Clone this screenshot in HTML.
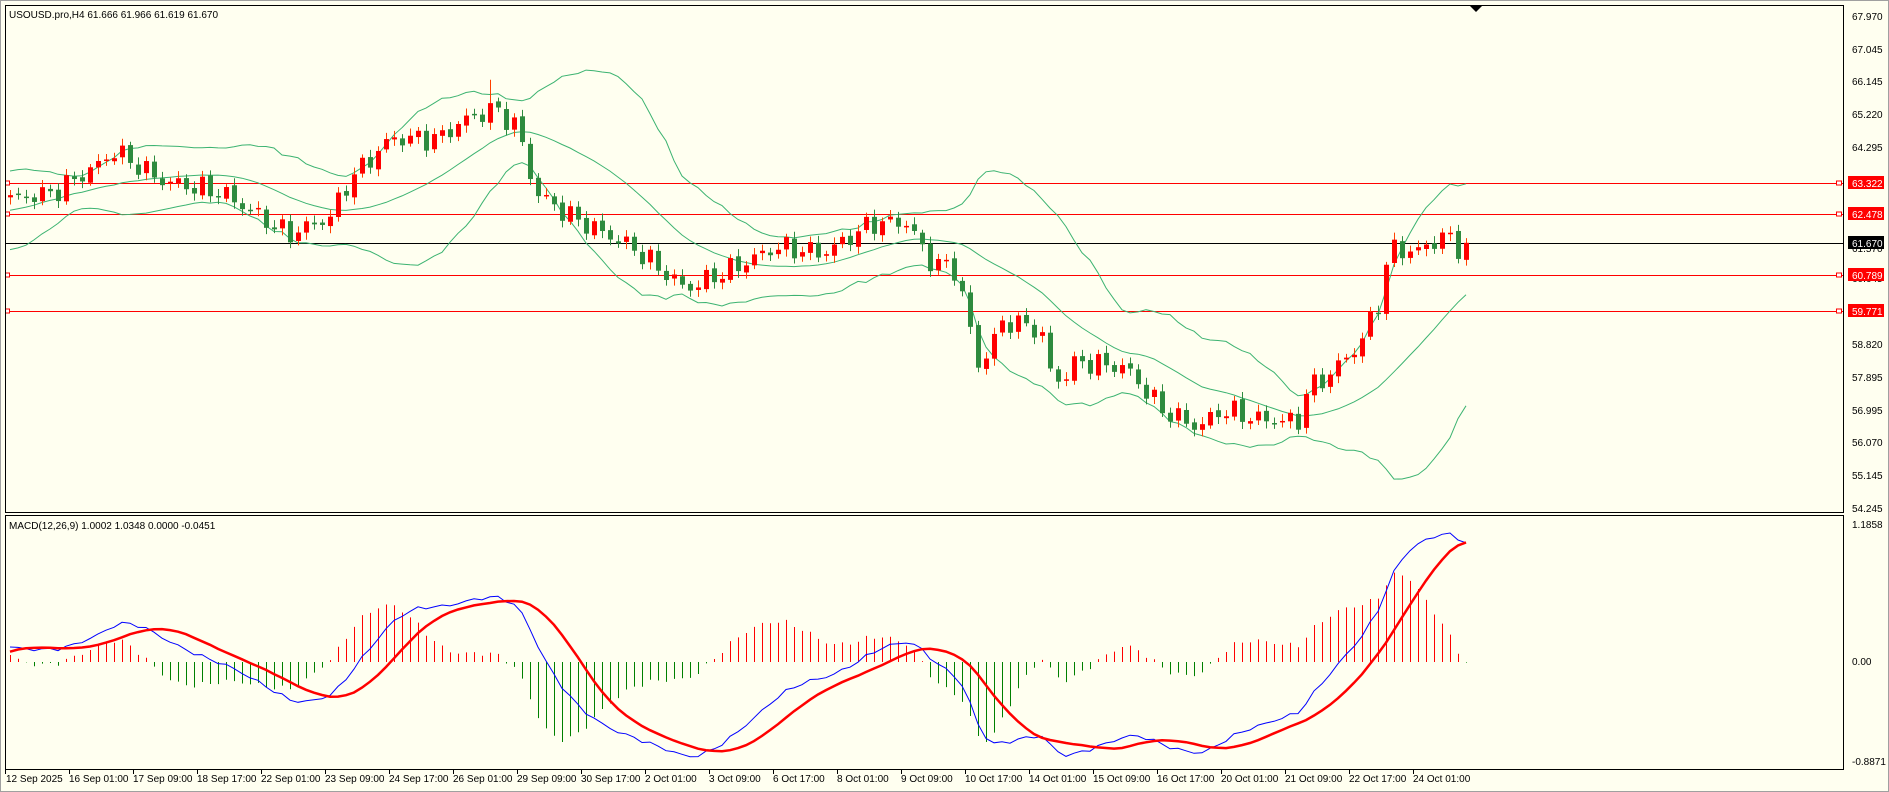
<!DOCTYPE html>
<html><head><meta charset="utf-8">
<style>
html,body{margin:0;padding:0;background:#fffff0;overflow:hidden}
svg{display:block}
text{font-family:"Liberation Sans","DejaVu Sans",sans-serif;font-size:10px;fill:#000}
</style></head><body>
<svg id="s" width="1889" height="792" xmlns="http://www.w3.org/2000/svg">
<rect x="0" y="0" width="1889" height="792" fill="#fffff0"/>
<rect x="0.5" y="0.5" width="1888" height="791" fill="none" stroke="#a0a0a0"/>
<g id="g"></g>
<rect x="5.5" y="5.5" width="1838" height="507" fill="none" stroke="#000"/>
<rect x="5.5" y="515.5" width="1838" height="254" fill="none" stroke="#000"/>
<polygon points="1470,6 1482,6 1476,12" fill="#000"/>
<text x="9" y="18">USOUSD.pro,H4  61.666 61.966 61.619 61.670</text>
<text x="9" y="529">MACD(12,26,9) 1.0002 1.0348 0.0000 -0.0451</text>
<g id="pl">
<text x="1852" y="20">67.970</text>
<text x="1852" y="53">67.045</text>
<text x="1852" y="85">66.145</text>
<text x="1852" y="118">65.220</text>
<text x="1852" y="151">64.295</text>
<text x="1852" y="348">58.820</text>
<text x="1852" y="381">57.895</text>
<text x="1852" y="414">56.995</text>
<text x="1852" y="446">56.070</text>
<text x="1852" y="479">55.145</text>
<text x="1852" y="512">54.245</text>
<text x="1852" y="252">61.570</text>
<text x="1852" y="282">60.645</text>
<rect x="1848" y="176" width="36" height="13" fill="#ff0000"/><text x="1852" y="187" style="fill:#fff">63.322</text>
<rect x="1848" y="207" width="36" height="13" fill="#ff0000"/><text x="1852" y="218" style="fill:#fff">62.478</text>
<rect x="1848" y="236" width="36" height="13" fill="#000"/><text x="1852" y="247" style="fill:#fff">61.670</text>
<rect x="1848" y="268" width="36" height="13" fill="#ff0000"/><text x="1852" y="279" style="fill:#fff">60.789</text>
<rect x="1848" y="304" width="36" height="13" fill="#ff0000"/><text x="1852" y="315" style="fill:#fff">59.771</text>
<text x="1852" y="528">1.1858</text>
<text x="1852" y="665">0.00</text>
<text x="1852" y="765">-0.8871</text>
</g>
<g id="tl">
<text x="6" y="782">12 Sep 2025</text>
<text x="69" y="782">16 Sep 01:00</text>
<text x="133" y="782">17 Sep 09:00</text>
<text x="197" y="782">18 Sep 17:00</text>
<text x="261" y="782">22 Sep 01:00</text>
<text x="325" y="782">23 Sep 09:00</text>
<text x="389" y="782">24 Sep 17:00</text>
<text x="453" y="782">26 Sep 01:00</text>
<text x="517" y="782">29 Sep 09:00</text>
<text x="581" y="782">30 Sep 17:00</text>
<text x="645" y="782">2 Oct 01:00</text>
<text x="709" y="782">3 Oct 09:00</text>
<text x="773" y="782">6 Oct 17:00</text>
<text x="837" y="782">8 Oct 01:00</text>
<text x="901" y="782">9 Oct 09:00</text>
<text x="965" y="782">10 Oct 17:00</text>
<text x="1029" y="782">14 Oct 01:00</text>
<text x="1093" y="782">15 Oct 09:00</text>
<text x="1157" y="782">16 Oct 17:00</text>
<text x="1221" y="782">20 Oct 01:00</text>
<text x="1285" y="782">21 Oct 09:00</text>
<text x="1349" y="782">22 Oct 17:00</text>
<text x="1413" y="782">24 Oct 01:00</text>
</g>
</svg>
<script>
(function(){
var NS="http://www.w3.org/2000/svg",g=document.getElementById("g");
function el(t,a){var e=document.createElementNS(NS,t);for(var k in a)e.setAttribute(k,a[k]);g.appendChild(e);return e;}
function py(p){return 16+(67.970-p)*36.0;}
function my(v){return 662-v*114;}
for(var k=0;k<23;k++){var tx=(k==0?5:5+64*k)+0.5;el("line",{x1:tx,y1:770,x2:tx,y2:774,stroke:"#000"});}
var kp=[[7,165],[40,160],[80,135],[90,125],[130,150],[180,160],[235,195],[270,180],[285,150],[320,115],[360,115],[380,100],[405,90],[425,105],[440,160],[470,180],[520,205],[565,240],[610,220],[640,205],[680,210],[720,185],[750,185],[765,215],[790,225],[800,270],[808,305],[830,265],[860,275],[870,320],[890,300],[930,305],[960,340],[990,355],[1010,340],[1040,348],[1075,350],[1080,325],[1100,310],[1125,285],[1140,250],[1150,205],[1170,210],[1195,195],[1212,210]];
var K=kp.map(function(a){return [(a[0]*1.2047-5)/8,67.97-(a[1]*1.2047-16)/36];});
var N=183,W=60,cl=[];
for(var i=0;i<W;i++){cl.push(63+0.9*Math.sin(i*0.25)-0.3+0.15*Math.sin(i*1.7));}
var first=K[0][1];
for(var i=W-10;i<W;i++){cl[i]=cl[i]+(first-cl[i])*(i-W+10)/10;}
for(var i=0;i<N;i++){
 var p;
 if(i<=K[0][0])p=K[0][1];else if(i>=K[K.length-1][0])p=K[K.length-1][1];
 else{for(var j=0;j<K.length-1;j++){if(i>=K[j][0]&&i<=K[j+1][0]){var t=(i-K[j][0])/(K[j+1][0]-K[j][0]);p=K[j][1]+t*(K[j+1][1]-K[j][1]);break;}}}
 p+=0.22*Math.sin(i*1.9)+0.12*Math.sin(i*3.7+1);
 if(i==N-1)p=61.67;
 cl.push(p);
}
var T=cl.length;
var mid=[],up=[],lo=[];
for(var i=0;i<T;i++){if(i<19){mid.push(null);up.push(null);lo.push(null);continue;}
 var s=0;for(var k=i-19;k<=i;k++)s+=cl[k];var m=s/20,v=0;for(var k=i-19;k<=i;k++)v+=(cl[k]-m)*(cl[k]-m);var sd=Math.sqrt(v/20);
 mid.push(m);up.push(m+2*sd);lo.push(m-2*sd);}
function ema(a,n){var r=[],k=2/(n+1);r[0]=a[0];for(var i=1;i<a.length;i++)r[i]=a[i]*k+r[i-1]*(1-k);return r;}
var e12=ema(cl,12),e26=ema(cl,26),macd=[],sig=[];
for(var i=0;i<T;i++)macd.push(e12[i]-e26[i]);
for(var i=0;i<T;i++){if(i<8){sig.push(macd[i]);continue;}var s=0;for(var k=i-8;k<=i;k++)s+=macd[k];sig.push(s/9);}
function X(i){return 5+8*(i-W)+5;}
[[63.322,"#ff0000"],[62.478,"#ff0000"],[61.670,"#000"],[60.789,"#ff0000"],[59.771,"#ff0000"]].forEach(function(h){
 var y=Math.round(py(h[0]))+0.5;el("line",{x1:6,y1:y,x2:1843,y2:y,stroke:h[1],"stroke-width":1});
 if(h[1]!="#000"){el("rect",{x:5.5,y:y-2.5,width:4,height:4,fill:"#fff",stroke:h[1]});el("rect",{x:1836.5,y:y-2.5,width:5,height:4,fill:"#fff",stroke:h[1]});}
});
function poly(arr,yf,col,w){var pts=[];for(var i=W;i<T;i++){if(arr[i]!=null)pts.push(X(i)+","+yf(arr[i]).toFixed(1));}el("polyline",{points:pts.join(" "),fill:"none",stroke:col,"stroke-width":w});}
poly(up,py,"#3cb371",1);poly(mid,py,"#3cb371",1);poly(lo,py,"#3cb371",1);
for(var i=W;i<T;i++){
 var o=cl[i-1]+0.05*Math.sin(i*2.3),c=cl[i];
 var hi=Math.max(o,c)+0.08+0.12*Math.abs(Math.sin(i*1.3)),lw=Math.min(o,c)-0.08-0.12*Math.abs(Math.cos(i*1.1));
 if(i==W+60){hi=66.2;}
 var x=X(i),bull=c>=o,col=bull?"#ff0000":"#2e8b3e";
 el("line",{x1:x+0.5,y1:py(hi),x2:x+0.5,y2:py(lw),stroke:bull?"#ff4000":"#2e8b3e","stroke-width":1});
 var y1=py(Math.max(o,c)),y2=py(Math.min(o,c));if(y2-y1<1.5)y2=y1+1.5;
 el("rect",{x:x-2,y:y1,width:5,height:y2-y1,fill:col});
}
for(var i=W;i<T;i++){var h=(macd[i]-sig[i])*1.5,x=X(i)+0.5;
 el("line",{x1:x,y1:662,x2:x,y2:my(h),stroke:h>0?"#ff0000":"#008000","stroke-width":1});}
poly(macd,my,"#0000ff",1);poly(sig,my,"#ff0000",2.5);
})();
</script>
</body></html>
